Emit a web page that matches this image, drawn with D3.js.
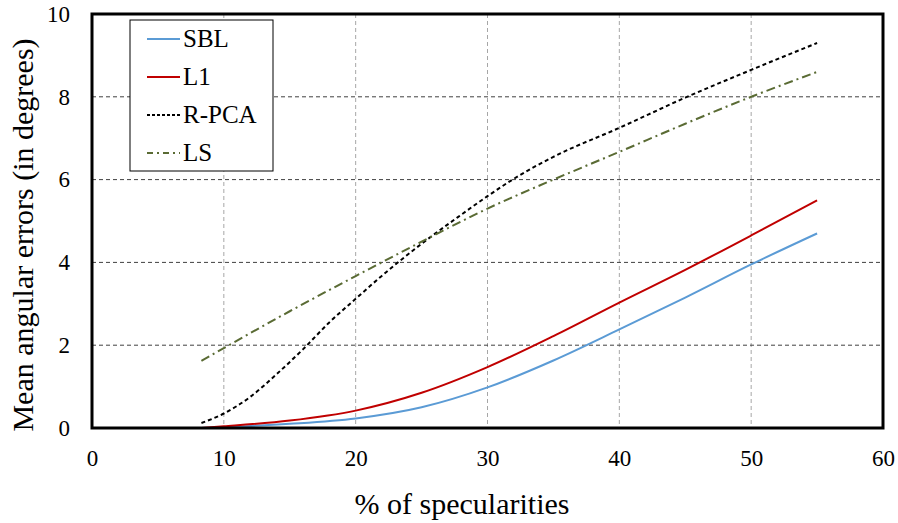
<!DOCTYPE html>
<html>
<head>
<meta charset="utf-8">
<script src="https://cdn.jsdelivr.net/npm/d3@7"></script>
<style>
  body { margin: 0; background: #fff; }
  svg text { font-family: "Liberation Serif", "Times New Roman", serif !important; fill: #000; }
</style>
</head>
<body>
<svg id="chart" width="898" height="523"></svg>
<script>
/* Data */
const X_TICKS = [0, 10, 20, 30, 40, 50, 60]
const Y_TICKS = [0, 2, 4, 6, 8, 10]
const SBL_X = [8.3, 10, 15, 20, 25, 30, 35, 40, 45, 50, 55]
const SBL_Y = [0.0, 0.02, 0.1, 0.23, 0.5, 0.98, 1.63, 2.38, 3.15, 3.95, 4.7]
const L1_X = [8.3, 10, 15, 20, 25, 30, 35, 40, 45, 50, 55]
const L1_Y = [0.0, 0.04, 0.18, 0.42, 0.85, 1.47, 2.22, 3.03, 3.82, 4.65, 5.5]
const RPCA_X = [8.3, 10, 12, 14, 16, 18, 20, 22, 25, 28, 30, 32, 35, 40, 45, 50, 55]
const RPCA_Y = [0.12, 0.35, 0.75, 1.3, 1.9, 2.55, 3.12, 3.68, 4.45, 5.15, 5.6, 6.02, 6.55, 7.25, 7.98, 8.65, 9.3]
const LS_X = [8.3, 10, 15, 20, 25, 30, 35, 40, 45, 50, 55]
const LS_Y = [1.62, 1.93, 2.82, 3.67, 4.5, 5.3, 6.0, 6.67, 7.35, 8.0, 8.6]
const SERIES_NAMES = ["SBL", "L1", "R-PCA", "LS"]

/* Layout */
const MARGIN = {left: 92, top: 14, right: 15, bottom: 95}
const WIDTH = 898 - MARGIN.left - MARGIN.right
const HEIGHT = 523 - MARGIN.top - MARGIN.bottom
const FONT = "'Liberation Serif', 'Times New Roman', serif"
const STYLES = {
  "SBL": {color: "#5b9bd5", dash: null},
  "L1": {color: "#c00000", dash: null},
  "R-PCA": {color: "#000000", dash: "4,3"},
  "LS": {color: "#5a6b34", dash: "9,4,2,4"}
}

const svg = d3.select("#chart")
const g = svg.append("g").attr("transform", "translate(" + MARGIN.left + "," + MARGIN.top + ")")

const xScale = d3.scaleLinear().domain([0, 60]).range([0, WIDTH])
const yScale = d3.scaleLinear().domain([0, 10]).range([HEIGHT, 0])

/* Grid */
g.selectAll(".vgrid")
 .data(X_TICKS.slice(1, -1))
 .enter()
 .append("line")
 .attr("x1", d => xScale(d)).attr("x2", d => xScale(d))
 .attr("y1", 0).attr("y2", HEIGHT)
 .attr("stroke", "#a6a6a6")
 .attr("stroke-width", 1)
 .attr("stroke-dasharray", "4,3")
g.selectAll(".hgrid")
 .data(Y_TICKS.slice(1, -1))
 .enter()
 .append("line")
 .attr("x1", 0).attr("x2", WIDTH)
 .attr("y1", d => yScale(d)).attr("y2", d => yScale(d))
 .attr("stroke", "#404040")
 .attr("stroke-width", 1)
 .attr("stroke-dasharray", "4,3")

/* Axes (labels only; frame drawn separately) */
const xAxis = d3.axisBottom(xScale).tickValues(X_TICKS).tickSize(0).tickPadding(22)
const yAxis = d3.axisLeft(yScale).tickValues(Y_TICKS).tickSize(0).tickPadding(22)
g.append("g").attr("transform", "translate(0," + HEIGHT + ")").call(xAxis)
 .attr("font-family", FONT).attr("font-size", 23)
 .call(a => a.select(".domain").remove())
 .selectAll("text").style("font-family", FONT).style("font-size", "23px")
g.append("g").call(yAxis)
 .attr("font-family", FONT).attr("font-size", 23)
 .call(a => a.select(".domain").remove())
 .selectAll("text").style("font-family", FONT).style("font-size", "23px")

/* Lines */
const line = d3.line()
               .x(d => xScale(d[0]))
               .y(d => yScale(d[1]))
               .curve(d3.curveMonotoneX)
const seriesData = {
  "SBL": d3.zip(SBL_X, SBL_Y),
  "L1": d3.zip(L1_X, L1_Y),
  "R-PCA": d3.zip(RPCA_X, RPCA_Y),
  "LS": d3.zip(LS_X, LS_Y)
}
SERIES_NAMES.forEach(name => {
  g.append("path")
   .datum(seriesData[name])
   .attr("d", line)
   .attr("fill", "none")
   .attr("stroke", STYLES[name].color)
   .attr("stroke-width", 2)
   .attr("stroke-dasharray", STYLES[name].dash)
})

/* Frame */
g.append("rect")
 .attr("width", WIDTH).attr("height", HEIGHT)
 .attr("fill", "none").attr("stroke", "#000").attr("stroke-width", 3)

/* Legend */
const legend = g.append("g").attr("transform", "translate(" + (130 - MARGIN.left) + "," + (20 - MARGIN.top) + ")")
legend.append("rect")
      .attr("width", 143).attr("height", 151)
      .attr("fill", "#fff").attr("stroke", "#000").attr("stroke-width", 1)
const items = legend.selectAll(".item")
                    .data(SERIES_NAMES)
                    .enter()
                    .append("g")
                    .attr("transform", (d, i) => "translate(0," + (27 + i * 38) + ")")
items.append("line")
     .attr("x1", 17).attr("x2", 50).attr("y1", -8).attr("y2", -8)
     .attr("stroke", d => STYLES[d].color)
     .attr("stroke-width", 2)
     .attr("stroke-dasharray", d => d === "LS" ? "6,4,2,4" : (d === "R-PCA" ? "3,2" : null))
items.append("text")
     .attr("x", 53).attr("y", 0)
     .style("font-family", FONT)
     .style("font-size", "25px")
     .text(d => d)

/* Titles */
svg.append("text")
   .attr("x", 462).attr("y", 514)
   .attr("text-anchor", "middle")
   .style("font-family", FONT)
   .style("font-size", "30px")
   .text("% of specularities")
svg.append("text")
   .attr("transform", "translate(33,235) rotate(-90)")
   .attr("text-anchor", "middle")
   .style("font-family", FONT)
   .style("font-size", "30px")
   .text("Mean angular errors (in degrees)")
</script>
</body>
</html>
